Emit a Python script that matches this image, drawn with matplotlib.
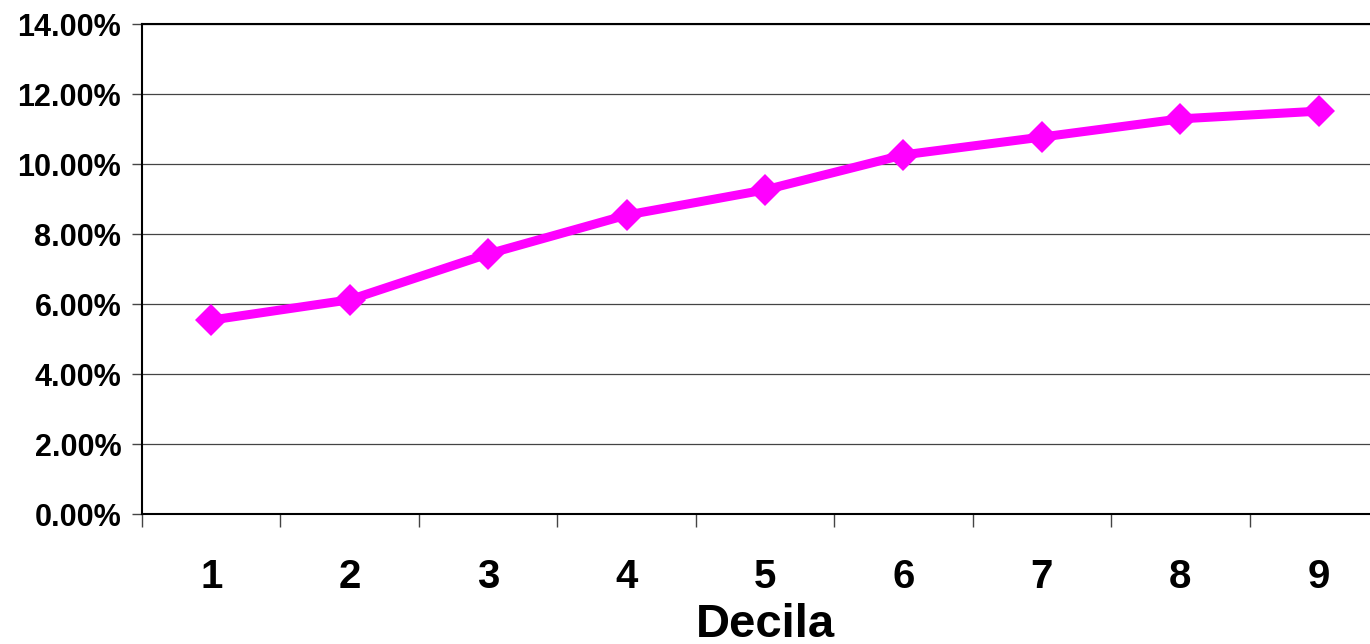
import matplotlib
matplotlib.use('Agg')
import matplotlib.pyplot as plt
import numpy as np
from matplotlib.ticker import FuncFormatter

plt.rcParams['font.family'] = ['Liberation Sans', 'DejaVu Sans']

deciles = [1, 2, 3, 4, 5, 6, 7, 8, 9]
rates = [5.54, 6.12, 7.43, 8.54, 9.26, 10.26, 10.77, 11.29, 11.51]  # percent
yticks = [0, 2, 4, 6, 8, 10, 12, 14]

fig = plt.figure(figsize=(13.7, 6.44), dpi=100)
# plot area runs past the right edge of the picture, as in the original
ax = fig.add_axes([142/1370, 130/644, 1246/1370, 490/644])

ax.plot(deciles, rates, color='#ff00ff', lw=6.5, marker='D', ms=16.5,
        mec='#ff00ff', mew=0, solid_joinstyle='round', clip_on=False, zorder=3)

ax.set_xlim(0.5, 9.5)
ax.set_ylim(0, 14)

# y axis
ax.set_yticks(yticks)
ax.yaxis.set_major_formatter(FuncFormatter(lambda v, p: f'{v:.2f}%'))
ax.tick_params(axis='y', length=7, width=1, color='#444444', pad=8,
               labelsize=22)
for lab in ax.get_yticklabels():
    lab.set_fontweight('bold')
ax.grid(axis='y', color='#444444', lw=0.9)
ax.set_axisbelow(True)

# x axis: ticks between categories, labels at categories
ax.set_xticks(np.arange(0.5, 10, 1))
ax.set_xticklabels([])
ax.set_xticks(deciles, minor=True)
ax.set_xticklabels([str(d) for d in deciles], minor=True, fontsize=29,
                   fontweight='bold')
ax.tick_params(axis='x', which='major', length=9, width=1, color='#444444')
ax.tick_params(axis='x', which='minor', length=0, pad=32)

for s in ['left', 'bottom', 'top']:
    ax.spines[s].set_color('black')
    ax.spines[s].set_linewidth(1.5)
ax.spines['right'].set_visible(False)

fig.text(765/1370, 7/644, 'Decila', ha='center', va='baseline',
         fontsize=34, fontweight='bold')

fig.savefig('out.png', dpi=100)
